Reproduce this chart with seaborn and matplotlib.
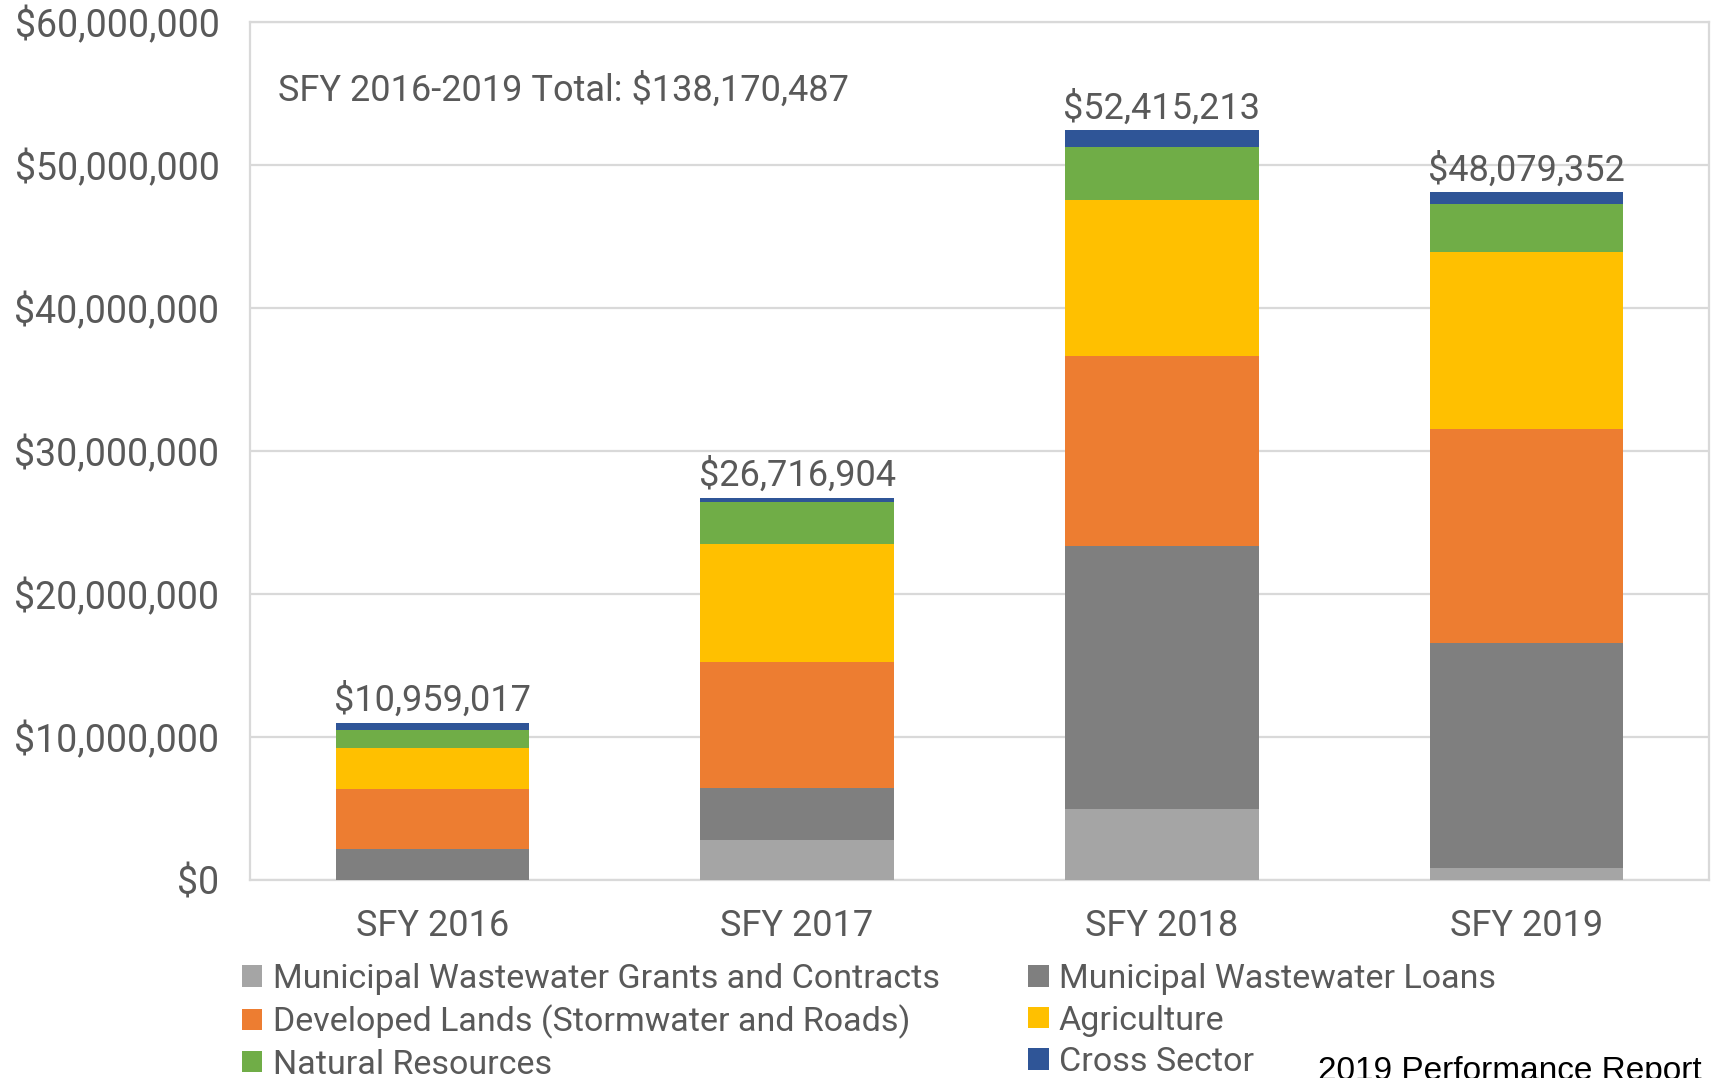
import numpy as np
import pandas as pd
import matplotlib
matplotlib.use("Agg")
import matplotlib.pyplot as plt
from matplotlib.ticker import FuncFormatter
from matplotlib.patches import Patch
import seaborn as sns

# ---- data ----
years = ["SFY 2016", "SFY 2017", "SFY 2018", "SFY 2019"]
grants = [0, 2_820_000, 4_960_000, 840_000]
loans = [2_200_000, 3_600_000, 18_400_000, 15_700_000]
developed = [4_180_000, 8_800_000, 13_300_000, 15_000_000]
agriculture = [2_840_000, 8_300_000, 10_900_000, 12_400_000]
natural = [1_280_000, 2_900_000, 3_700_000, 3_300_000]
cross = [459_017, 296_904, 1_155_213, 839_352]
total_labels = ["$10,959,017", "$26,716,904", "$52,415,213", "$48,079,352"]
series_names = ["Municipal Wastewater Grants and Contracts", "Municipal Wastewater Loans",
                "Developed Lands (Stormwater and Roads)", "Agriculture",
                "Natural Resources", "Cross Sector"]
series_colors = ["#A5A5A5", "#7F7F7F", "#ED7D31", "#FFC000", "#70AD47", "#2F5597"]
y_ticks = [0, 10_000_000, 20_000_000, 30_000_000, 40_000_000, 50_000_000, 60_000_000]
annotation = "SFY 2016-2019 Total: $138,170,487"

TXT = "#595959"
sns.set_theme(style="white")
plt.rcParams["font.family"] = ["Roboto", "DejaVu Sans"]

series = [grants, loans, developed, agriculture, natural, cross]
cum = np.cumsum(np.array(series, dtype=float), axis=0)

fig = plt.figure(figsize=(17.11, 10.78), dpi=100)
ax = fig.add_axes([250 / 1711, 1 - 880 / 1078, 1459 / 1711, 858 / 1078])

df = pd.DataFrame({"year": years})
for k in range(len(series) - 1, -1, -1):
    df["v"] = cum[k]
    sns.barplot(data=df, x="year", y="v", color=series_colors[k], saturation=1,
                width=0.53, linewidth=0, ax=ax, zorder=3)

ax.set_ylim(0, 60_000_000)
ax.set_xlim(-0.5, 3.5)
ax.set_yticks(y_ticks)
ax.yaxis.set_major_formatter(FuncFormatter(lambda v, p: f"${v:,.0f}"))
ax.set_xlabel("")
ax.set_ylabel("")
ax.grid(axis="y", color="#D9D9D9", linewidth=1.6, zorder=0)
ax.grid(axis="x", visible=False)
for s in ax.spines.values():
    s.set_visible(True)
    s.set_color("#D9D9D9")
    s.set_linewidth(1.6)
ax.tick_params(axis="x", length=0, labelsize=26, labelcolor=TXT, pad=20)
ax.tick_params(axis="y", length=0, labelsize=27, labelcolor=TXT, pad=22)

for i, lab in enumerate(total_labels):
    ax.annotate(lab, xy=(i, cum[-1][i]), xytext=(0, 3), textcoords="offset points",
                ha="center", va="bottom", fontsize=26, color=TXT)

ax.text(278 / 1711, 1 - 91 / 1078, annotation, transform=fig.transFigure, fontsize=26,
        color=TXT, ha="left", va="center")

order = [0, 2, 4, 1, 3, 5]
handles = [Patch(facecolor=series_colors[i], edgecolor="none", label=series_names[i]) for i in order]
leg = fig.legend(handles=handles, ncol=2, loc="upper left",
                 bbox_to_anchor=(242 / 1711, 1 - 963 / 1078), frameon=False,
                 fontsize=24.5, handlelength=0.6, handleheight=0.6, handletextpad=0.3,
                 labelspacing=0.28, columnspacing=2.6, borderpad=0, borderaxespad=0)
for t in leg.get_texts():
    t.set_color(TXT)

fig.text(1318 / 1711, 1 - 1056 / 1078, "2019 Performance Report", fontsize=24,
         color="black", ha="left", va="top", family=["Liberation Sans", "DejaVu Sans"])

fig.savefig("out.png", dpi=100)
